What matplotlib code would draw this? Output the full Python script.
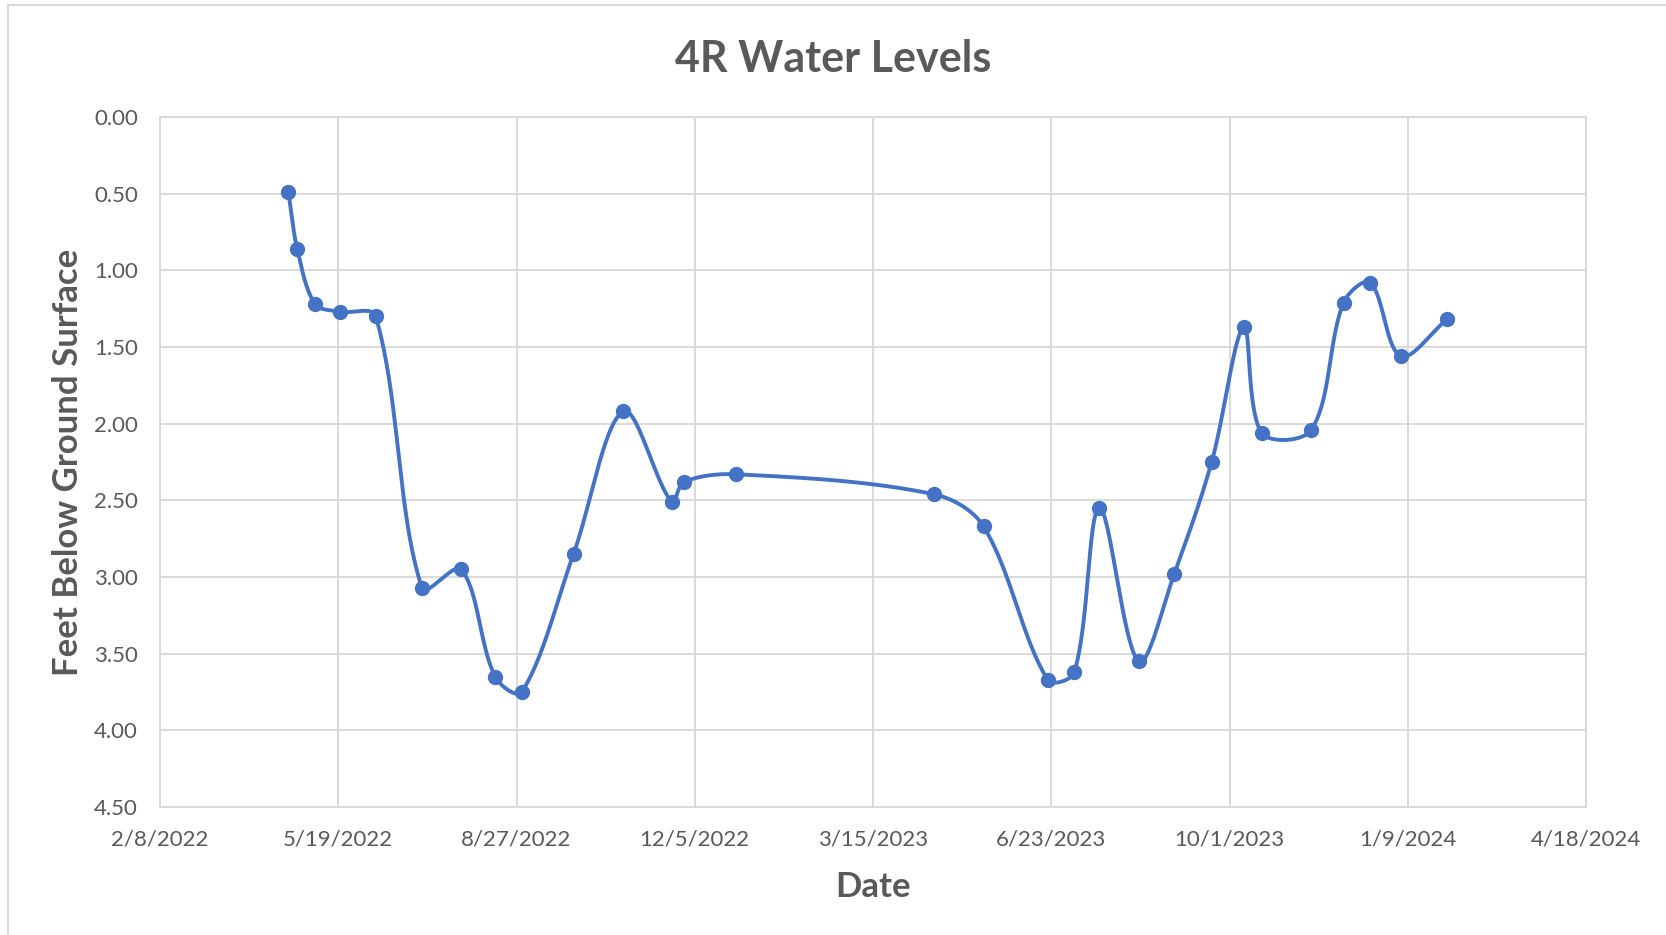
import numpy as np
import pandas as pd
import matplotlib
matplotlib.use("Agg")
import matplotlib.pyplot as plt
import matplotlib.dates as mdates
from matplotlib.lines import Line2D

# datos
dates = ["2022-04-21", "2022-04-26", "2022-05-06", "2022-05-20", "2022-06-09",
         "2022-07-05", "2022-07-27", "2022-08-15", "2022-08-30", "2022-09-28",
         "2022-10-26", "2022-11-22", "2022-11-29", "2022-12-28", "2023-04-18",
         "2023-05-16", "2023-06-21", "2023-07-06", "2023-07-20", "2023-08-11",
         "2023-08-31", "2023-09-21", "2023-10-09", "2023-10-19", "2023-11-16",
         "2023-12-04", "2023-12-19", "2024-01-05", "2024-01-31"]
depth = [0.49, 0.86, 1.22, 1.27, 1.30,
         3.07, 2.95, 3.65, 3.75, 2.85,
         1.92, 2.51, 2.38, 2.33, 2.46,
         2.67, 3.67, 3.62, 2.55, 3.55,
         2.98, 2.25, 1.37, 2.06, 2.04,
         1.21, 1.08, 1.56, 1.32]
x_start = "2022-02-08"
x_end = "2024-04-18"
tick_step_days = 100
y_ticks = [0.0, 0.5, 1.0, 1.5, 2.0, 2.5, 3.0, 3.5, 4.0, 4.5]

BLUE = "#4472C4"
GRID = "#D9D9D9"
TEXT = "#595959"

plt.rcParams['font.family'] = ['Lato', 'DejaVu Sans']

# escala aproximada en pixeles (para suavizar como Excel)
PX_PER_DAY = 1.78
PX_PER_FT = 153.4


# List<float>, List<float> -> (array, array)
# Curva suave: Catmull-Rom con asas proporcionales a cada tramo
def smooth(xs, ys, n=40):
    p = np.column_stack([np.asarray(xs, float) * PX_PER_DAY,
                         np.asarray(ys, float) * PX_PER_FT])
    m = len(p)
    seg = np.hypot(*(p[1:] - p[:-1]).T)
    hin = np.zeros_like(p)   # asa hacia el punto anterior
    hout = np.zeros_like(p)  # asa hacia el punto siguiente
    for i in range(m):
        a = p[max(i - 1, 0)]
        b = p[min(i + 1, m - 1)]
        chord = b - a
        lp = seg[i - 1] if i > 0 else 0.0
        ln = seg[i] if i < m - 1 else 0.0
        tot = lp + ln
        hin[i] = chord * (lp / tot) / 3.0
        hout[i] = chord * (ln / tot) / 3.0
    t = np.linspace(0, 1, n)[:, None]
    out = []
    for i in range(m - 1):
        p0, p3 = p[i], p[i + 1]
        c1 = p0 + hout[i]
        c2 = p3 - hin[i + 1]
        b = (1 - t) ** 3 * p0 + 3 * (1 - t) ** 2 * t * c1 + 3 * (1 - t) * t ** 2 * c2 + t ** 3 * p3
        out.append(b)
    out = np.vstack(out)
    return out[:, 0] / PX_PER_DAY, out[:, 1] / PX_PER_FT


xd = mdates.date2num(pd.to_datetime(dates))
sx, sy = smooth(xd, depth)

fig = plt.figure(figsize=(16.66, 9.35), dpi=100)
ax = fig.add_axes([160 / 1666, 1 - 807 / 935, (1586 - 160) / 1666, (807 - 117) / 935])

ax.plot(sx, sy, color=BLUE, lw=2.8, solid_capstyle='round', zorder=3)
ax.plot(xd, depth, 'o', color=BLUE, markersize=10, zorder=4)

x0 = mdates.date2num(pd.Timestamp(x_start))
x1 = mdates.date2num(pd.Timestamp(x_end))
ax.set_xlim(x0, x1)
ax.set_xticks(np.arange(x0, x1 + 1, tick_step_days))
ax.set_xticklabels([f"{d.month}/{d.day}/{d.year}" for d in mdates.num2date(ax.get_xticks())])
ax.set_ylim(4.5, 0)
ax.set_yticks(y_ticks)
ax.set_yticklabels([f"{v:.2f}" for v in y_ticks])

ax.grid(True, color=GRID, lw=1.4)
ax.set_axisbelow(True)
for s in ax.spines.values():
    s.set_color(GRID)
    s.set_linewidth(1.4)
ax.tick_params(length=0, labelsize=16, labelcolor=TEXT)
ax.tick_params(axis='x', pad=16)
ax.tick_params(axis='y', pad=16)

ax.set_xlabel("Date", fontsize=25, fontweight='bold', color=TEXT, labelpad=16)
ax.set_ylabel("Feet Below Ground Surface", fontsize=25, fontweight='bold', color=TEXT, labelpad=7)
fig.text(0.5, 1 - 59 / 935, "4R Water Levels", ha='center', va='center',
         fontsize=31, fontweight='bold', color=TEXT)

# borde del area del grafico
bx = 7.5 / 1666
by = 1 - 4.5 / 935
fig.add_artist(Line2D([bx, bx], [0, by], color=GRID, lw=1.5))
fig.add_artist(Line2D([bx, 1], [by, by], color=GRID, lw=1.5))

fig.savefig("out.png", dpi=100)
